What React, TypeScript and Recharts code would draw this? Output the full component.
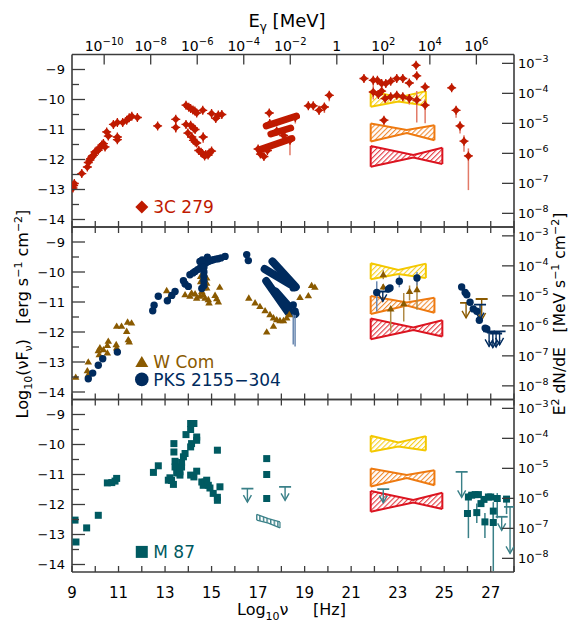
import React from 'react';
import { ComposedChart, Scatter, Line, Area, XAxis, YAxis, ErrorBar } from 'recharts';

type Pt = [number, number, number?, number?];

// ---------- axes / ticks ----------
const xTicks = [9, 10, 11, 12, 13, 14, 15, 16, 17, 18, 19, 20, 21, 22, 23, 24, 25, 26, 27, 28];
const yTicks = [-14, -13.5, -13, -12.5, -12, -11.5, -11, -10.5, -10, -9.5, -9];
const rightTicks = [-8, -7, -6, -5, -4, -3];
const gammaExps = [-10, -8, -6, -4, -2, 0, 2, 4, 6];

// ---------- 3C 279 ----------
const c279Radio: Pt[] = [
  [9.04, -12.95], [9.07, -12.87], [9.1, -12.8], [9.42, -12.47], [9.66, -12.25], [9.7, -12.1], [9.77, -12.02],
  [9.8, -11.97], [9.85, -11.92], [9.88, -11.88], [9.92, -11.86], [9.99, -11.75], [10.05, -11.72], [10.13, -11.69],
  [10.2, -11.6], [10.28, -11.52], [10.35, -11.47], [10.42, -11.58], [10.49, -11.08], [10.56, -11.22],
  [10.78, -10.83], [10.95, -10.77], [10.95, -11.25], [10.95, -11.34], [11.18, -10.77], [11.35, -10.69],
  [11.46, -10.61], [11.57, -10.56], [11.81, -10.6],
];
const c279Opt: Pt[] = [
  [12.68, -10.88], [13.46, -10.66], [13.46, -10.93, 0.18, 0.12], [13.9, -10.19], [14.02, -10.26], [14.1, -10.3],
  [14.2, -10.35], [14.28, -10.38], [14.36, -10.45], [14.62, -10.36], [13.9, -10.83], [14.1, -10.86], [14.22, -10.95],
  [14.29, -11.0], [13.98, -11.12, 0.15, 0.1], [14.15, -11.25], [14.22, -11.36], [14.3, -11.42], [14.36, -11.45],
  [14.64, -11.25, 0.2, 0.15], [14.45, -11.7], [14.55, -11.76], [14.6, -11.8], [14.7, -11.88], [14.75, -11.83],
  [14.85, -11.85], [14.9, -11.78], [15.0, -11.72], [15.0, -10.47], [15.18, -10.63], [15.29, -10.52], [15.44, -10.5],
];
const c279X: Pt[] = [
  [17.48, -10.45], [17.0, -11.65], [17.1, -11.82], [17.25, -11.9], [17.4, -11.7], [18.37, -11.36, 0.5, 0],
  [18.6, -10.6, 0.2, 0], [17.5, -10.8], [17.8, -11.05], [18.1, -11.2],
];
const c279Streaks: [number, number][][] = [
  [[17.35, -10.88], [18.65, -10.55]],
  [[17.55, -11.15], [18.4, -10.95]],
  [[17.05, -11.68], [18.45, -11.3]],
];
const c279Gamma: Pt[] = [
  [19.16, -10.21], [19.37, -10.21], [19.62, -10.36, 0.15, 0.1], [19.85, -10.25, 0.2, 0.12], [20.06, -9.86, 0.2, 0.12],
  [21.55, -9.3, 0.08], [21.95, -9.36, 0.25, 0.08], [22.13, -9.36], [22.31, -9.47], [22.49, -9.47], [22.7, -9.39],
  [22.96, -9.3], [23.22, -9.3], [23.5, -9.45, 0.1], [23.79, -8.86], [23.82, -9.21, 0.1], [24.18, -9.58, 0.15, 0.1],
  [21.95, -9.75, 0.25, 0.1], [22.17, -9.83], [22.31, -9.72], [22.46, -9.97], [22.7, -9.91], [22.96, -9.86],
  [23.22, -9.91], [23.5, -9.97, 0.2, 0.15], [23.82, -10.02, 0.75, 0.3], [24.18, -10.19, 0.6, 0.2], [22.41, -10.69, 0.15, 0.1],
  [25.32, -9.61, 0.1], [25.51, -10.36, 0.25, 0.12], [25.68, -10.88, 0.25, 0.15], [25.85, -11.39, 0.35, 0.2],
  [26.04, -11.88, 1.14, 0.25],
];

// ---------- W Com / PKS 2155-304 ----------
const wcomPts: Pt[] = [
  [9.16, -13.51], [9.66, -13.29], [9.7, -13.0], [9.7, -13.42], [10.13, -12.62], [10.17, -12.76], [10.2, -12.53],
  [10.35, -12.59], [10.52, -12.45], [10.52, -12.7], [10.56, -12.31], [10.9, -12.42], [10.92, -12.53], [10.92, -11.81],
  [11.13, -11.81], [11.35, -11.98], [11.39, -11.67], [11.56, -11.7], [11.42, -12.26], [11.46, -12.33],
  [13.07, -10.62], [13.21, -10.81], [13.86, -10.76], [14.07, -10.81], [14.14, -10.7], [14.29, -10.73], [14.36, -10.87],
  [14.5, -10.81], [14.58, -10.65], [14.64, -10.76], [14.72, -10.87], [14.86, -10.92], [14.89, -11.03], [15.15, -10.78],
  [15.22, -10.89], [15.29, -11.0], [15.35, -10.51], [14.53, -10.15], [14.53, -10.32], [14.79, -10.2], [14.79, -10.37],
  [14.67, -10.53], [14.79, -10.53],
  [16.6, -10.87], [16.87, -11.03], [17.08, -11.15], [17.3, -11.29], [17.51, -11.42], [17.66, -11.53], [17.8, -11.59],
  [17.94, -11.62], [18.09, -11.62], [18.23, -11.53], [18.34, -11.42], [17.37, -12.0], [17.66, -11.81],
  [18.8, -10.85], [19.16, -10.79], [19.3, -10.45], [19.44, -10.51],
  [22.38, -10.09, 0.15, 0.15], [22.38, -10.5, 0.1], [22.7, -11.23, 0.75, 0.08], [23.26, -11.06, 0.59, 0.36],
  [23.51, -10.65, 0.3, 0.2], [23.83, -10.59, 0.67, 0.5],
];
const wcomUL: Pt[] = [[25.94, -11.03, 0.5], [26.61, -10.9, 0.7]];
const pksPts: Pt[] = [
  [9.7, -13.56], [9.89, -13.37], [10.13, -13.11], [10.32, -12.89], [10.95, -12.67],
  [12.47, -11.29], [12.53, -11.11], [12.71, -10.81], [13.1, -10.96], [13.29, -10.78], [13.43, -10.65],
  [13.79, -10.29], [13.86, -10.4], [14.0, -10.48], [14.07, -10.09], [14.2, -10.03], [14.29, -9.98], [14.4, -9.92],
  [14.5, -9.87], [14.64, -9.76], [14.75, -9.7], [14.86, -9.65], [14.97, -9.62], [15.07, -9.59], [15.18, -9.57],
  [15.29, -9.56], [15.4, -9.53], [15.58, -9.48], [14.82, -9.51], [14.5, -9.65], [14.6, -9.6],
  [14.67, -9.85], [14.67, -10.0], [14.67, -10.15], [14.67, -10.3], [14.67, -10.45], [14.58, -10.55],
  [16.51, -9.42], [16.58, -9.62],
  [18.51, -10.53], [18.59, -11.31, 1.17, 0], [18.51, -11.1, 1.32, 0],
  [22.1, -10.68, 0.63, 0.37], [22.6, -10.57], [22.67, -10.53], [23.07, -10.31, 0.2, 0.2], [23.83, -10.2, 0.25, 0.2],
  [25.75, -10.5], [25.9, -10.68], [25.97, -10.76], [26.11, -11.01], [26.25, -11.23], [26.4, -11.31], [26.51, -11.61],
  [26.76, -11.87], [26.83, -11.9],
];
const pksStreaks: [number, number][][] = [
  [[17.28, -9.9], [18.4, -10.42]],
  [[17.62, -9.65], [18.62, -10.5]],
  [[17.35, -10.3], [18.3, -11.35]],
  [[17.75, -10.65], [18.6, -11.4]],
];
const pksUL: Pt[] = [
  [22.36, -10.65, 0.33], [26.54, -11.09, 0.5], [26.93, -11.98, 0.5], [27.09, -12.02, 0.5], [27.23, -12.05, 0.45],
  [27.38, -11.98, 0.45],
];

// ---------- M 87 ----------
const m87Pts: Pt[] = [
  [9.13, -12.52], [9.17, -13.25], [9.63, -12.78], [10.13, -12.36], [10.52, -11.28], [10.71, -11.27], [10.85, -11.22],
  [10.92, -11.13], [12.5, -10.93], [12.71, -10.71],
  [13.14, -11.19], [13.21, -11.11], [13.28, -11.2], [13.36, -11.33], [13.38, -9.97], [13.38, -10.25], [13.43, -10.56],
  [13.43, -10.75], [13.5, -10.95], [13.57, -10.8], [13.64, -10.91], [13.64, -11.02], [13.71, -10.75], [13.71, -10.6],
  [13.79, -10.41], [13.86, -10.3], [13.9, -9.67], [14.1, -9.3], [14.24, -9.3], [14.1, -9.5], [14.1, -10.08],
  [14.14, -9.97], [14.36, -9.75], [14.36, -9.86], [14.1, -11.02], [14.24, -11.08], [14.36, -10.89],
  [14.58, -11.25], [14.64, -11.36], [14.72, -11.25], [14.79, -11.19], [14.86, -11.36], [14.93, -11.45], [15.07, -11.63],
  [15.25, -11.76], [15.25, -11.86], [15.25, -10.19], [15.36, -11.41],
  [17.37, -10.47], [17.37, -11.0], [17.37, -11.8],
  [26.04, -11.75, 1.37, 0.13], [26.0, -12.3], [26.18, -11.69], [26.33, -11.67], [26.47, -11.67], [26.4, -12.27, 0.35, 0.3],
  [26.58, -11.97], [26.71, -11.83], [26.75, -12.58, 0.54, 0.3], [26.9, -11.75], [27.0, -11.75], [27.11, -12.22, 0.3, 0.3],
  [27.11, -12.6, 1.62, 0.4], [27.28, -11.8, 0.66, 0.18], [27.68, -11.82, 0.5, 0.1],
];
const m87UL: Pt[] = [
  [16.54, -11.47, 0.45], [18.16, -11.41, 0.45], [22.38, -11.49, 0.45], [25.75, -10.91, 0.85], [27.47, -12.41, 0.45],
  [27.83, -12.08, 1.55],
];

// ---------- bow-ties (x, top, bottom) ----------
const bowYellowX = [21.84, 23.03, 24.21];
const bowYellowTop = [-9.71, -9.93, -9.72];
const bowYellowBot = [-10.24, -10.07, -10.2];
const bowOrangeX = [21.84, 23.39, 24.58];
const bowOrangeTop = [-10.8, -11.02, -10.86];
const bowOrangeBot = [-11.4, -11.12, -11.36];
const bowRedX = [21.84, 23.67, 24.92];
const bowRedTop = [-11.55, -11.85, -11.61];
const bowRedBot = [-12.24, -11.93, -12.15];
const bowM87X = [16.94, 17.44, 17.94];
const bowM87Top = [-12.33, -12.47, -12.58];
const bowM87Bot = [-12.52, -12.62, -12.78];

// ---------- layout constants ----------
const FONT = '"DejaVu Sans", Verdana, sans-serif';
const W = 571, H = 626;
const PLOT_L = 72, PLOT_R = 514, PH = 172.5;
const PANEL_TOPS = [54.5, 227, 399.5];
const Y_DOMAIN: [number, number] = [-14.25, -8.5];
const X_DOMAIN: [number, number] = [9, 28];
const ERG_MEV = 5.795; // log10(MeV per erg)
const NU_MEV = 20.383; // log10(nu) at E = 1 MeV
const RIGHT_DOMAIN: [number, number] = [Y_DOMAIN[0] + ERG_MEV, Y_DOMAIN[1] + ERG_MEV];
const gammaTicks = gammaExps.map((e) => e + NU_MEV);
const AX = '#3c3c3c';

const C279 = '#bf1a00', C279E = '#e27a68';
const WCOM = '#8a5a00', WCOME = '#b08a45';
const PKS = '#002b5e', PKSE = '#6a88b0';
const M87 = '#005a61', M87E = '#3a8088';

const toObj = (p: Pt) => ({ x: p[0], y: p[1], e: [p[2] ?? 0, p[3] ?? p[2] ?? 0] });
const mn = (v: number) => (v < 0 ? '\u2212' + Math.abs(v) : String(v));

// ---------- ticks ----------
const LeftTick = (p: any) => {
  const v = p.payload.value;
  const major = Math.abs(v - Math.round(v)) < 1e-6;
  return (
    <g>
      <line x1={p.x} x2={p.x + (major ? 13 : 7)} y1={p.y} y2={p.y} stroke={AX} strokeWidth={1.3} />
      {major && (
        <text x={p.x - 7} y={p.y + 4.5} textAnchor="end" fontSize={13} fontFamily={FONT} fill="#000">{mn(v)}</text>
      )}
    </g>
  );
};
const RightTick = (p: any) => {
  const v = p.payload.value;
  return (
    <g>
      <line x1={p.x} x2={p.x - 12} y1={p.y} y2={p.y} stroke={AX} strokeWidth={1.3} />
      <text x={p.x + 4} y={p.y + 5} fontSize={13} fontFamily={FONT} fill="#000">
        <tspan>10</tspan>
        <tspan dy={-6} fontSize={9.5}>{mn(v)}</tspan>
      </text>
    </g>
  );
};
const makeBottomTick = (showLabel: boolean) => (p: any) => {
  const v = p.payload.value;
  return (
    <g>
      <line x1={p.x} x2={p.x} y1={p.y} y2={p.y - 6} stroke={AX} strokeWidth={1.3} />
      {showLabel && v % 2 === 1 && (
        <text x={p.x} y={p.y + 25.5} textAnchor="middle" fontSize={15} fontFamily={FONT} fill="#000">{v}</text>
      )}
    </g>
  );
};
const TopIntTick = (p: any) => (
  <line x1={p.x} x2={p.x} y1={p.y} y2={p.y + 6} stroke={AX} strokeWidth={1.3} />
);
const GammaTick = (p: any) => {
  const e = Math.round(p.payload.value - NU_MEV);
  return (
    <g>
      <line x1={p.x} x2={p.x} y1={p.y} y2={p.y + 10} stroke={AX} strokeWidth={1.3} />
      {e === 0 ? (
        <text x={p.x} y={p.y - 4} textAnchor="middle" fontSize={14} fontFamily={FONT} fill="#000">1</text>
      ) : (
        <text x={p.x} y={p.y - 4} textAnchor="middle" fontSize={14} fontFamily={FONT} fill="#000">
          <tspan>10</tspan>
          <tspan dy={-6} fontSize={10}>{mn(e)}</tspan>
        </text>
      )}
    </g>
  );
};

// ---------- marker shapes ----------
const diamondShape = (c: string) => (p: any) => {
  const { cx, cy } = p;
  if (cx == null || cy == null) return <g />;
  const r = 4;
  return (
    <g>
      <line x1={cx - 4.5} x2={cx + 4.5} y1={cy} y2={cy} stroke={c} strokeWidth={1.3} />
      <line x1={cx} x2={cx} y1={cy - 4.5} y2={cy + 4.5} stroke={c} strokeWidth={1.3} />
      <polygon points={`${cx},${cy - r} ${cx + r},${cy} ${cx},${cy + r} ${cx - r},${cy}`} fill={c} />
    </g>
  );
};
const triShape = (c: string, s = 7.5) => (p: any) => {
  const { cx, cy } = p;
  if (cx == null || cy == null) return <g />;
  const h = s * 0.85;
  return <polygon points={`${cx},${cy - h * 0.6} ${cx + s / 2},${cy + h * 0.4} ${cx - s / 2},${cy + h * 0.4}`} fill={c} />;
};
const circShape = (c: string, r = 3.7) => (p: any) => {
  const { cx, cy } = p;
  if (cx == null || cy == null) return <g />;
  return <circle cx={cx} cy={cy} r={r} fill={c} />;
};
const sqShape = (c: string, s = 7) => (p: any) => {
  const { cx, cy } = p;
  if (cx == null || cy == null) return <g />;
  return <rect x={cx - s / 2} y={cy - s / 2} width={s} height={s} fill={c} />;
};
const barShape = (c: string) => (p: any) => {
  const { cx, cy } = p;
  if (cx == null || cy == null) return <g />;
  return <line x1={cx - 6} x2={cx + 6} y1={cy} y2={cy} stroke={c} strokeWidth={1.8} />;
};
const arrowShape = (c: string) => (p: any) => {
  const { cx, cy } = p;
  if (cx == null || cy == null) return <g />;
  return <polyline points={`${cx - 4},${cy - 7} ${cx},${cy} ${cx + 4},${cy - 7}`} fill="none" stroke={c} strokeWidth={1.4} />;
};
const legendShape = (c: string, marker: string) => (p: any) => {
  const { cx, cy, payload } = p;
  if (cx == null || cy == null) return <g />;
  let m: React.ReactNode = null;
  if (marker === 'diamond') m = <polygon points={`${cx},${cy - 6.5} ${cx + 6.5},${cy} ${cx},${cy + 6.5} ${cx - 6.5},${cy}`} fill={c} />;
  if (marker === 'tri') m = <polygon points={`${cx},${cy - 6} ${cx + 6.5},${cy + 5} ${cx - 6.5},${cy + 5}`} fill={c} />;
  if (marker === 'circ') m = <circle cx={cx} cy={cy} r={6.8} fill={c} />;
  if (marker === 'sq') m = <rect x={cx - 6} y={cy - 6} width={12} height={12} fill={c} />;
  return (
    <g>
      {m}
      <text x={cx + 11.5} y={cy + 6.3} fontSize={17} fontFamily={FONT} fill={c}>{payload.label}</text>
    </g>
  );
};

// ---------- series builders ----------
const scatterSeries = (key: string, pts: Pt[], shape: any, errColor: string) => (
  <Scatter key={key} data={pts.map(toObj)} dataKey="y" shape={shape} isAnimationActive={false}>
    <ErrorBar dataKey="e" direction="y" width={0} stroke={errColor} strokeWidth={1.5} />
  </Scatter>
);
const ulSeries = (key: string, pts: Pt[], c: string) => [
  <Scatter key={key + '-bar'} data={pts.map((p) => ({ x: p[0], y: p[1], e: [p[2] ?? 0.5, 0] }))} dataKey="y"
    shape={barShape(c)} isAnimationActive={false}>
    <ErrorBar dataKey="e" direction="y" width={0} stroke={c} strokeWidth={1.4} />
  </Scatter>,
  <Scatter key={key + '-tip'} data={pts.map((p) => ({ x: p[0], y: p[1] - (p[2] ?? 0.5) }))} dataKey="y"
    shape={arrowShape(c)} isAnimationActive={false} />,
];
const streakSeries = (key: string, streaks: [number, number][][], c: string, w: number) =>
  streaks.map((s, i) => (
    <Line key={key + i} data={s.map(([x, y]) => ({ x, y }))} dataKey="y" type="linear" stroke={c} strokeWidth={w}
      strokeLinecap="round" dot={false} activeDot={false} isAnimationActive={false} />
  ));
const bowtieSeries = (key: string, xs: number[], top: number[], bot: number[], c: string, fill: string, sw = 2) => [
  <Area key={key + '-a'} data={xs.map((x, i) => ({ x, r: [bot[i], top[i]] }))} dataKey="r" type="linear"
    stroke={c} strokeWidth={sw} fill={fill} fillOpacity={1} dot={false} activeDot={false} isAnimationActive={false} />,
  <Line key={key + '-l'} data={[{ x: xs[0], y: bot[0] }, { x: xs[0], y: top[0] }]} dataKey="y" stroke={c}
    strokeWidth={sw} dot={false} activeDot={false} isAnimationActive={false} />,
  <Line key={key + '-r'} data={[{ x: xs[2], y: bot[2] }, { x: xs[2], y: top[2] }]} dataKey="y" stroke={c}
    strokeWidth={sw} dot={false} activeDot={false} isAnimationActive={false} />,
];
const gammaBowties = (k: string) => [
  ...bowtieSeries(k + 'y', bowYellowX, bowYellowTop, bowYellowBot, '#f4c800', 'url(#hatchY)'),
  ...bowtieSeries(k + 'o', bowOrangeX, bowOrangeTop, bowOrangeBot, '#ee7a10', 'url(#hatchO)'),
  ...bowtieSeries(k + 'r', bowRedX, bowRedTop, bowRedBot, '#dc1420', 'url(#hatchR)'),
];

// ---------- panel ----------
function PanelChart({ idx, items }: { idx: number; items: React.ReactNode[] }) {
  const top = PANEL_TOPS[idx];
  const margin = { top: top - 1, bottom: H - top - PH - 1, left: PLOT_L - 1, right: W - PLOT_R - 1 };
  const axisLine = { stroke: AX, strokeWidth: 1.6 };
  return (
    <div style={{ position: 'absolute', left: 0, top: 0 }}>
      <ComposedChart width={W} height={H} margin={margin}>
        <XAxis xAxisId={0} dataKey="x" type="number" orientation="bottom" domain={X_DOMAIN} allowDataOverflow
          ticks={xTicks} interval={0} height={1} tickSize={0} tickMargin={0} tickLine={false} axisLine={axisLine}
          tick={makeBottomTick(idx === 2)} />
        <XAxis xAxisId="top" dataKey="x" type="number" orientation="top" domain={X_DOMAIN} allowDataOverflow
          ticks={idx === 0 ? gammaTicks : xTicks} interval={0} height={1} tickSize={0} tickMargin={0}
          tickLine={false} axisLine={axisLine} tick={idx === 0 ? GammaTick : TopIntTick} />
        <YAxis yAxisId={0} dataKey="y" type="number" domain={Y_DOMAIN} allowDataOverflow ticks={yTicks} interval={0}
          width={1} tickSize={0} tickMargin={0} tickLine={false} axisLine={axisLine} tick={LeftTick} />
        <YAxis yAxisId="right" type="number" orientation="right" domain={RIGHT_DOMAIN} allowDataOverflow
          ticks={rightTicks} interval={0} width={1} tickSize={0} tickMargin={0} tickLine={false} axisLine={axisLine}
          tick={RightTick} />
        {items}
      </ComposedChart>
    </div>
  );
}

export default function App() {
  const panel1 = [
    ...gammaBowties('p1'),
    ...streakSeries('c279s', c279Streaks, C279, 7),
    scatterSeries('c279r', c279Radio, diamondShape(C279), C279E),
    scatterSeries('c279o', c279Opt, diamondShape(C279), C279E),
    scatterSeries('c279x', c279X, diamondShape(C279), C279E),
    scatterSeries('c279g', c279Gamma, diamondShape(C279), C279E),
    <Scatter key="leg1" data={[{ x: 12.0, y: -13.58, label: '3C 279' }]} dataKey="y"
      shape={legendShape(C279, 'diamond')} isAnimationActive={false} />,
  ];
  const panel2 = [
    ...gammaBowties('p2'),
    scatterSeries('wcom', wcomPts, triShape(WCOM), WCOME),
    ...ulSeries('wcomul', wcomUL, WCOM),
    ...streakSeries('pkss', pksStreaks, PKS, 8),
    scatterSeries('pks', pksPts, circShape(PKS), PKSE),
    ...ulSeries('pksul', pksUL, PKS),
    <Scatter key="leg2a" data={[{ x: 12.0, y: -13.0, label: 'W Com' }]} dataKey="y"
      shape={legendShape(WCOM, 'tri')} isAnimationActive={false} />,
    <Scatter key="leg2b" data={[{ x: 12.0, y: -13.58, label: 'PKS 2155\u2212304' }]} dataKey="y"
      shape={legendShape(PKS, 'circ')} isAnimationActive={false} />,
  ];
  const panel3 = [
    ...gammaBowties('p3'),
    ...bowtieSeries('m87b', bowM87X, bowM87Top, bowM87Bot, M87E, 'url(#hatchM)', 1.2),
    scatterSeries('m87', m87Pts, sqShape(M87), M87E),
    ...ulSeries('m87ul', m87UL, M87E),
    <Scatter key="leg3" data={[{ x: 12.0, y: -13.58, label: 'M 87' }]} dataKey="y"
      shape={legendShape(M87, 'sq')} isAnimationActive={false} />,
  ];

  const hatch = (id: string, c: string, vertical = false) => (
    <pattern id={id} patternUnits="userSpaceOnUse" width={3.6} height={3.6}
      patternTransform={vertical ? undefined : 'rotate(45)'}>
      <rect width={3.6} height={3.6} fill="#fff" />
      <rect x={0} y={0} width={vertical ? 1.4 : 1.1} height={3.6} fill={c} />
    </pattern>
  );

  return (
    <div style={{ position: 'absolute', left: 0, top: 0, width: W, height: H, background: '#fff', fontFamily: FONT }}>
      <svg width={1} height={1} style={{ position: 'absolute', left: 0, top: 0 }}>
        <defs>
          {hatch('hatchY', '#f6cf20')}
          {hatch('hatchO', '#f08a30')}
          {hatch('hatchR', '#e23a40')}
          {hatch('hatchM', '#3a8088', true)}
        </defs>
      </svg>
      <PanelChart idx={0} items={panel1} />
      <PanelChart idx={1} items={panel2} />
      <PanelChart idx={2} items={panel3} />
      <svg width={W} height={H} style={{ position: 'absolute', left: 0, top: 0, pointerEvents: 'none' }}>
        <text x={287} y={27} textAnchor="middle" fontSize={18} fontFamily={FONT} fill="#000" style={{ whiteSpace: 'pre' }}>
          <tspan>E</tspan>
          <tspan dy={4} fontSize={12}>γ</tspan>
          <tspan dy={-4}> [MeV]</tspan>
        </text>
        <text x={237} y={615} fontSize={16} fontFamily={FONT} fill="#000">
          <tspan>Log</tspan>
          <tspan dy={5} fontSize={11}>10</tspan>
          <tspan dy={-5}>ν</tspan>
        </text>
        <text x={313} y={615} fontSize={16} fontFamily={FONT} fill="#000">[Hz]</text>
        <g transform="translate(28 314) rotate(-90)">
          <text x={0} y={0} textAnchor="middle" fontSize={16} fontFamily={FONT} fill="#000" style={{ whiteSpace: 'pre' }}>
            <tspan>Log</tspan>
            <tspan dy={4} fontSize={11}>10</tspan>
            <tspan dy={-4}>(νF</tspan>
            <tspan dy={4} fontSize={11}>ν</tspan>
            <tspan dy={-4}>)   [erg s</tspan>
            <tspan dy={-6} fontSize={11}>−1</tspan>
            <tspan dy={6}> cm</tspan>
            <tspan dy={-6} fontSize={11}>−2</tspan>
            <tspan dy={6}>]</tspan>
          </text>
        </g>
        <g transform="translate(565 314) rotate(-90)">
          <text x={0} y={0} textAnchor="middle" fontSize={15.5} fontFamily={FONT} fill="#000" style={{ whiteSpace: 'pre' }}>
            <tspan>E</tspan>
            <tspan dy={-6} fontSize={11}>2</tspan>
            <tspan dy={6}> dN/dE   [MeV s</tspan>
            <tspan dy={-6} fontSize={11}>−1</tspan>
            <tspan dy={6}> cm</tspan>
            <tspan dy={-6} fontSize={11}>−2</tspan>
            <tspan dy={6}>]</tspan>
          </text>
        </g>
      </svg>
    </div>
  );
}
